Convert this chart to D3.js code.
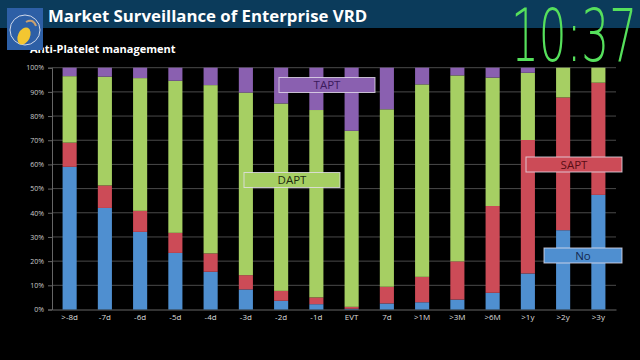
<!DOCTYPE html>
<html><head><meta charset="utf-8">
<script src="https://cdn.jsdelivr.net/npm/d3@7"></script>
<style>html,body{margin:0;padding:0;background:#000;}svg{display:block;}</style>
</head><body>
<svg id="c" width="640" height="360"></svg>
<script>
const categories = [">-8d","-7d","-6d","-5d","-4d","-3d","-2d","-1d","EVT","7d",">1M",">3M",">6M",">1y",">2y",">3y"];
const seriesNames = ["No","SAPT","DAPT","TAPT"];
const noValues   = [59.0,42.0,32.1,23.4,15.6,8.3,3.6,2.2,0.3,2.5,3.0,4.1,6.9,14.9,32.8,47.4];
const saptValues = [10.0,9.3,8.7,8.3,7.6,5.9,4.1,2.8,0.8,6.9,10.5,15.8,35.9,55.2,54.9,46.4];
const daptValues = [27.5,45.0,54.9,62.9,69.6,75.5,77.5,77.5,72.8,73.4,79.6,76.9,53.1,27.8,12.3,6.2];
const taptValues = [3.5,3.7,4.3,5.4,7.2,10.3,14.8,17.5,26.1,17.2,6.9,3.2,4.1,2.1,0.0,0.0];
const yTicks = [0,10,20,30,40,50,60,70,80,90,100];
const colors = {No:"#4f8fd0",SAPT:"#cc4b57",DAPT:"#a6cf63",TAPT:"#8a60b0"};

const svg = d3.select("#c");
// header band
svg.append("rect").attr("x",0).attr("y",0).attr("width",640).attr("height",28).attr("fill","#0b3b5b");
svg.append("text").attr("x",48).attr("y",22).attr("fill","#fff")
  .attr("font-family","Open Sans, sans-serif").attr("font-weight","bold").attr("font-size",16.8)
  .text("Market Surveillance of Enterprise VRD");
svg.append("text").attr("x",30).attr("y",53).attr("fill","#fff")
  .attr("font-family","Open Sans, sans-serif").attr("font-weight","bold").attr("font-size",11)
  .text("Anti-Platelet management");
// logo
const logo = svg.append("g");
logo.append("rect").attr("x",7).attr("y",8).attr("width",36).attr("height",42).attr("fill","#2d5fa6");
logo.append("circle").attr("cx",25).attr("cy",30).attr("r",15).attr("fill","none").attr("stroke","#cfd8ea").attr("stroke-width",1);
logo.append("ellipse").attr("cx",24).attr("cy",36).attr("rx",6).attr("ry",9).attr("fill","#f3c631").attr("transform","rotate(25,24,36)");
logo.append("path").attr("d","M26 22 Q33 18 36 26").attr("stroke","#c9a070").attr("stroke-width",2).attr("fill","none");

// clock
svg.append("text").attr("fill","#56e05c")
  .attr("font-family","DejaVu Sans, sans-serif").attr("font-weight",200).attr("font-size",46)
  .attr("transform","translate(511,61) scale(1,1.6)")
  .attr("textLength",126).attr("lengthAdjust","spacingAndGlyphs")
  .text("10:37");

// chart
const x = d3.scaleBand().domain(categories).range([52,616]).paddingInner(0.6).paddingOuter(0.3);
const y = d3.scaleLinear().domain([0,100]).range([309.5,67.7]);

const grid = svg.append("g");
grid.selectAll("line").data(yTicks.filter(t=>t>0)).join("line")
  .attr("x1",52).attr("x2",616).attr("y1",d=>y(d)).attr("y2",d=>y(d))
  .attr("stroke","#4a4a4a").attr("stroke-width",1);

const yAxis = svg.append("g").attr("transform","translate(52,0)")
  .call(d3.axisLeft(y).tickValues(yTicks).tickFormat(d=>d+"%").tickSize(4));
yAxis.selectAll("path,line").attr("stroke","#666");
yAxis.selectAll("text").attr("fill","#ccc").attr("font-family","Open Sans, sans-serif").attr("font-size",7).attr("x",-8);

const xAxis = svg.append("g").attr("transform","translate(0,309.5)")
  .call(d3.axisBottom(x).tickSize(0).tickPadding(5));
xAxis.select("path").attr("stroke","#666");
xAxis.selectAll("text").attr("fill","#ddd").attr("font-family","Open Sans, sans-serif").attr("font-size",8);

const rows = categories.map((c,i)=>({cat:c,No:noValues[i],SAPT:saptValues[i],DAPT:daptValues[i],TAPT:taptValues[i]}));
const stack = d3.stack().keys(seriesNames)(rows);
svg.append("g").selectAll("g").data(stack).join("g").attr("fill",d=>colors[d.key])
  .selectAll("rect").data(d=>d).join("rect")
  .attr("x",d=>x(d.data.cat)).attr("width",x.bandwidth())
  .attr("y",d=>y(d[1])).attr("height",d=>Math.max(0,y(d[0])-y(d[1])));

// label boxes
const labels = [
  {name:"TAPT",x0:279,x1:375,yc:85,text:"#3b1a5c"},
  {name:"DAPT",x0:244,x1:340,yc:180,text:"#1e2a10"},
  {name:"SAPT",x0:526,x1:622,yc:164.5,text:"#5a0d14"},
  {name:"No",x0:544,x1:622,yc:255.5,text:"#13284f"}
];
const lg = svg.append("g");
labels.forEach(l=>{
  lg.append("rect").attr("x",l.x0).attr("y",l.yc-7.5).attr("width",l.x1-l.x0).attr("height",15)
    .attr("fill",colors[l.name]).attr("stroke","#e6e0ee").attr("stroke-opacity",0.8).attr("stroke-width",1);
  lg.append("text").attr("x",(l.x0+l.x1)/2).attr("y",l.yc+4).attr("text-anchor","middle")
    .attr("fill",l.text).attr("font-family","Open Sans, sans-serif").attr("font-size",11.5).text(l.name);
});
</script>
</body></html>
